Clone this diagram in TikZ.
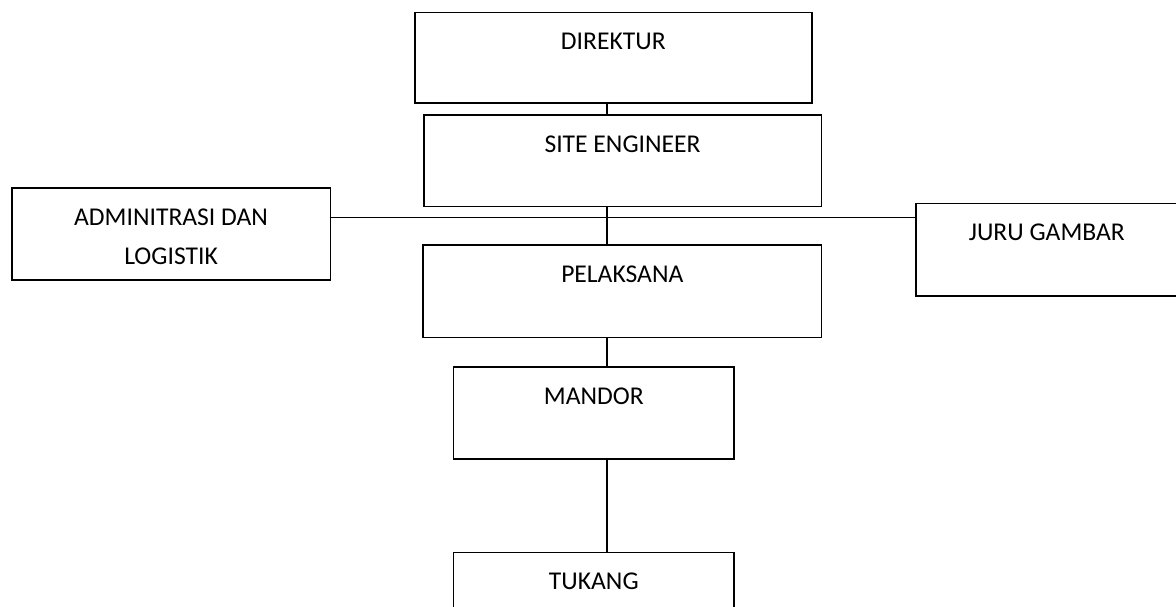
\documentclass[tikz,border=0pt]{standalone}
\usepackage{fontspec}
\setmainfont{Carlito}
\begin{document}
\begin{tikzpicture}[x=1pt,y=-1pt,
  box/.style={draw, line width=1.6pt, rectangle, inner sep=0pt, anchor=north west,
    align=center, font=\fontsize{25.6}{38.5}\selectfont, text height=37.4pt},
  link/.style={line width=1.6pt}]
\useasboundingbox (0,0) rectangle (1176,607);
\clip (0,0) rectangle (1176,607);
\node[box, minimum width=397pt, minimum height=90.6pt, text depth=53.2pt] (dir) at (414,11.7) {DIREKTUR};
\node[box, minimum width=397.5pt, minimum height=91.4pt, text depth=54pt] (se) at (423,114.3) {SITE ENGINEER};
\node[box, minimum width=318.5pt, minimum height=92pt, text height=75.9pt, text depth=16.1pt] (adm) at (11,187.3) {ADMINITRASI DAN\\LOGISTIK};
\node[box, minimum width=262pt, minimum height=92.3pt, text depth=54.9pt] (juru) at (915,202.7) {JURU GAMBAR};
\node[box, minimum width=398.4pt, minimum height=92.4pt, text depth=55pt] (pel) at (422.3,244.3) {PELAKSANA};
\node[box, minimum width=280.6pt, minimum height=92.3pt, text depth=54.9pt] (man) at (452.7,366) {MANDOR};
\node[box, minimum width=280.6pt, minimum height=92pt, text depth=54.6pt] (tuk) at (452.7,551.7) {TUKANG};
\coordinate (spine) at (607,0);
\coordinate (bus) at (0,217.5);
\draw[link] (spine |- dir.south) -- (spine |- se.north);
\draw[link] (spine |- se.south) -- (spine |- pel.north);
\draw[link] (adm.east |- bus) -- (juru.west |- bus);
\draw[link] (spine |- pel.south) -- (spine |- man.north);
\draw[link] (spine |- man.south) -- (spine |- tuk.north);
\end{tikzpicture}
\end{document}
